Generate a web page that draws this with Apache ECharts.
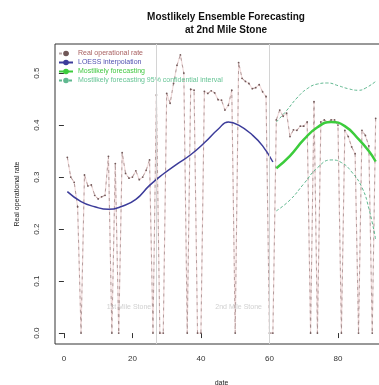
<!DOCTYPE html>
<html>
<head>
<meta charset="utf-8">
<script src="https://cdn.jsdelivr.net/npm/echarts@6/dist/echarts.min.js"></script>
<style>
  html, body { margin: 0; padding: 0; background: #fff; }
  #chart { width: 379px; height: 385px; }
</style>
</head>
<body>
<div id="chart"></div>
<script>
// real operational rate, one value per day (1..91)
var realDays = [];
for (var d = 1; d <= 91; d++) realDays.push(d);
var realRate = [
  0.338, 0.300, 0.290, 0.243, 0, 0.304, 0.283, 0.285, 0.265, 0.258,
  0.262, 0.265, 0.340, 0, 0.326, 0, 0.347, 0.307, 0.298, 0.300,
  0.312, 0.295, 0.300, 0.313, 0.333, 0, 0.458, 0, 0, 0.461,
  0.442, 0.480, 0.515, 0.535, 0.500, 0, 0.469, 0.467, 0, 0,
  0.465, 0.461, 0.466, 0.462, 0.449, 0.448, 0.429, 0.438, 0.467, 0,
  0.520, 0.490, 0.484, 0.480, 0.470, 0.472, 0.478, 0.464, 0.455, 0,
  0, 0.410, 0.429, 0.417, 0.423, 0.378, 0.391, 0.390, 0.398, 0.398,
  0.406, 0, 0.445, 0, 0.406, 0.410, 0.406, 0.410, 0.410, 0.400,
  0, 0.390, 0.378, 0.358, 0.345, 0, 0.390, 0.380, 0.360, 0,
  0.413
];

// LOESS curve (read at a few days)
var loessX = [1, 5, 9, 13, 17, 21, 25, 29, 33, 37, 41, 45, 48, 51, 55, 58, 61];
var loessY = [0.272, 0.253, 0.243, 0.238, 0.244, 0.257, 0.284, 0.306, 0.325, 0.343, 0.366, 0.392, 0.406, 0.400, 0.381, 0.360, 0.329];

// forecast and its 95% band
var fcX = [62, 66, 70, 74, 78, 82, 86, 89, 91];
var fcY = [0.317, 0.341, 0.372, 0.396, 0.406, 0.398, 0.373, 0.350, 0.330];
var upX = [62, 65, 68, 71, 74, 77, 80, 83, 86, 88, 91];
var upY = [0.406, 0.428, 0.452, 0.470, 0.479, 0.481, 0.476, 0.470, 0.467, 0.471, 0.484];
var loX = [62, 66, 70, 74, 78, 81, 84, 87, 89, 91];
var loY = [0.235, 0.256, 0.287, 0.318, 0.333, 0.328, 0.310, 0.280, 0.240, 0.180];

var milestoneDays = [27, 60];
var milestoneNames = ['1st Mile Stone', '2nd Mile Stone'];
var milestoneLabelX = [19, 51];
var milestoneLabelY = 0.05;

var xTicks = [0, 20, 40, 60, 80];
var yTicks = [0, 0.1, 0.2, 0.3, 0.4, 0.5];

var NAME_REAL = 'Real operational rate';
var NAME_LOESS = 'LOESS interpolation';
var NAME_FC = 'Mostlikely forecasting';
var NAME_CI = 'Mostlikely forecasting 95% confidential interval';

function pairs(xs, ys) {
  var out = [];
  for (var i = 0; i < xs.length; i++) out.push([xs[i], ys[i]]);
  return out;
}

var font = 'Liberation Sans, Arial, sans-serif';
var chart = echarts.init(document.getElementById('chart'), null, { renderer: 'canvas' });

var option = {
  animation: false,
  backgroundColor: '#ffffff',
  textStyle: { fontFamily: font },
  title: {
    text: 'Mostlikely Ensemble Forecasting\nat 2nd Mile Stone',
    left: 221,
    top: 6,
    textAlign: 'center',
    textStyle: { fontSize: 10, fontWeight: 'bold', color: '#111', lineHeight: 13, fontFamily: font }
  },
  legend: {
    orient: 'vertical',
    left: 58,
    top: 50,
    padding: 0,
    itemGap: 2,
    itemWidth: 14,
    itemHeight: 7,
    textStyle: { fontSize: 7, fontFamily: font, padding: [0, 0, 0, 0] },
    data: [
      { name: NAME_REAL, textStyle: { color: '#a86060' } },
      { name: NAME_LOESS, textStyle: { color: '#5050b0' } },
      { name: NAME_FC, textStyle: { color: '#40c840' } },
      { name: NAME_CI, textStyle: { color: '#66c495' } }
    ]
  },
  grid: {
    left: 55,
    top: 44,
    width: 333,
    bottom: 41,
    outerBoundsMode: 'none',
    containLabel: false,
    show: true,
    borderColor: '#333',
    borderWidth: 1
  },
  xAxis: {
    type: 'value',
    min: -2.6,
    max: 94.6,
    name: 'date',
    nameLocation: 'middle',
    nameGap: 36,
    nameTextStyle: { fontSize: 7, color: '#222' },
    axisLine: { show: false },
    splitLine: { show: false },
    axisTick: { show: true, inside: false, length: 5, customValues: xTicks, lineStyle: { color: '#333' } },
    axisLabel: { customValues: xTicks, fontSize: 8, color: '#333', margin: 11 }
  },
  yAxis: {
    type: 'value',
    min: -0.021,
    max: 0.556,
    name: 'Real operational rate',
    nameLocation: 'middle',
    nameGap: 34,
    nameRotate: 90,
    nameTextStyle: { fontSize: 7, color: '#222' },
    axisLine: { show: false },
    splitLine: { show: false },
    axisTick: { show: true, inside: false, length: 5, customValues: yTicks, lineStyle: { color: '#333' } },
    axisLabel: {
      customValues: yTicks, fontSize: 8, color: '#333', rotate: 90, margin: 14,
      formatter: function (v) { return v.toFixed(1); }
    }
  },
  series: [
    {
      // faint pink underlay of the observed series (not in legend)
      name: 'real-base',
      type: 'line',
      data: pairs(realDays, realRate),
      symbol: 'none',
      silent: true,
      lineStyle: { color: '#f2dcdc', width: 1.2 },
      markLine: {
        silent: true,
        symbol: 'none',
        label: { show: false },
        lineStyle: { color: '#d4d4d4', width: 1, type: 'solid' },
        data: milestoneDays.map(function (d) { return { xAxis: d }; })
      },
      z: 1
    },
    {
      name: NAME_REAL,
      type: 'line',
      data: pairs(realDays, realRate),
      symbol: 'circle',
      symbolSize: 1.8,
      itemStyle: { color: '#705858' },
      lineStyle: { color: '#907878', width: 1, type: [3, 4], opacity: 0.65 },
      z: 2
    },
    {
      name: NAME_LOESS,
      type: 'line',
      data: pairs(loessX, loessY),
      smooth: true,
      showSymbol: false,
      symbol: 'circle',
      symbolSize: 3,
      itemStyle: { color: '#3c3c9a' },
      lineStyle: { color: '#3c3c9a', width: 1.5 },
      z: 3
    },
    {
      name: NAME_FC,
      type: 'line',
      data: pairs(fcX, fcY),
      smooth: true,
      showSymbol: false,
      symbol: 'circle',
      symbolSize: 3,
      itemStyle: { color: '#3ccc3c' },
      lineStyle: { color: '#3ccc3c', width: 2.5 },
      z: 3
    },
    {
      name: NAME_CI,
      type: 'line',
      data: pairs(upX, upY),
      smooth: true,
      showSymbol: false,
      symbol: 'circle',
      symbolSize: 3,
      itemStyle: { color: '#5fb88f' },
      lineStyle: { color: '#5fb88f', width: 1, type: [3, 2] },
      z: 3
    },
    {
      name: NAME_CI,
      type: 'line',
      data: pairs(loX, loY),
      smooth: true,
      showSymbol: false,
      symbol: 'circle',
      symbolSize: 3,
      itemStyle: { color: '#5fb88f' },
      lineStyle: { color: '#5fb88f', width: 1, type: [3, 2] },
      z: 3
    },
    {
      name: 'milestones',
      type: 'scatter',
      symbolSize: 0,
      silent: true,
      data: milestoneNames.map(function (n, i) {
        return { name: n, value: [milestoneLabelX[i], milestoneLabelY] };
      }),
      label: {
        show: true,
        position: 'inside',
        formatter: '{b}',
        fontSize: 7,
        color: '#c4c4c4'
      }
    }
  ]
};

chart.setOption(option);
</script>
</body>
</html>
